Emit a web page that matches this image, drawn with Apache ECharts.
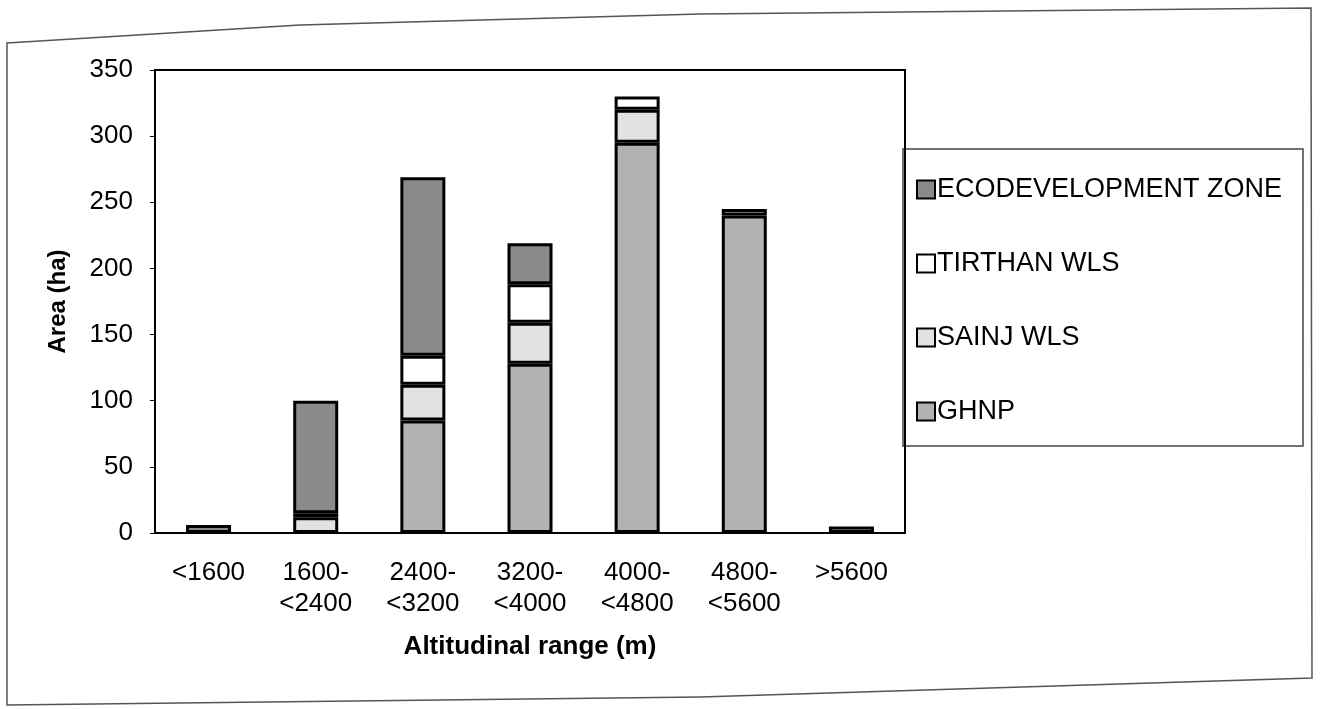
<!DOCTYPE html>
<html><head><meta charset="utf-8">
<script src="https://cdn.jsdelivr.net/npm/echarts@6/dist/echarts.min.js"></script>
<style>html,body{margin:0;padding:0;background:#fff}#c{width:1323px;height:709px}</style>
</head><body><div id="c"></div>
<script>
const categories = ['<1600', '1600-\n<2400', '2400-\n<3200', '3200-\n<4000', '4000-\n<4800', '4800-\n<5600', '>5600'];
const ghnp = [0, 0, 85, 128, 295, 240, 5];
const sainj = [0, 12, 27, 31, 25, 5, 0];
const tirthan = [0, 3, 22, 29, 10, 0, 0];
const ecodev = [6, 85, 135, 31, 0, 0, 0];
const yTicks = [0, 50, 100, 150, 200, 250, 300, 350];

const FONT = 'Liberation Sans, Arial, sans-serif';
const chart = echarts.init(document.getElementById('c'));
function mk(name, data, color) {
  return {
    name, type: 'bar', stack: 'a', barWidth: '42%',
    data: data.map(v => v === 0 ? '-' : v),
    itemStyle: { color, borderColor: '#000', borderWidth: 3 }
  };
}
chart.setOption({
  animation: false,
  textStyle: { fontFamily: FONT },
  graphic: [
    { type: 'polygon', shape: { points: [[7, 43], [300, 25], [700, 14], [1311, 8], [1312, 678], [700, 697], [7, 705]] }, style: { fill: 'none', stroke: '#555', lineWidth: 1.5 }, z: -1 },
    { type: 'rect', shape: { x: 903, y: 149, width: 400, height: 297 }, style: { fill: 'none', stroke: '#444', lineWidth: 1.5 }, z: -1 }
  ],
  grid: { left: 155, right: 418, top: 70, bottom: 176, show: true, borderColor: '#000', borderWidth: 2 },
  legend: {
    orient: 'vertical', left: 911, top: 171,
    data: ['ECODEVELOPMENT ZONE', 'TIRTHAN WLS', 'SAINJ WLS', 'GHNP'],
    icon: 'rect', itemWidth: 18, itemHeight: 18, itemGap: 47,
    itemStyle: { borderWidth: 2, borderColor: '#000' },
    textStyle: { fontSize: 27, color: '#000', fontFamily: FONT, padding: [0, 0, 0, -3] }
  },
  xAxis: {
    type: 'category', data: categories,
    name: 'Altitudinal range (m)', nameLocation: 'middle', nameGap: 101,
    nameTextStyle: { fontSize: 26, fontWeight: 'bold', color: '#000' },
    axisLine: { lineStyle: { color: '#000', width: 2 } },
    axisTick: { length: 6, lineStyle: { color: '#000' } },
    axisLabel: { fontSize: 26, color: '#000', margin: 24, lineHeight: 31, interval: 0 }
  },
  yAxis: {
    type: 'value', min: yTicks[0], max: yTicks[yTicks.length - 1], interval: 50,
    name: 'Area (ha)', nameLocation: 'middle', nameGap: 85,
    nameTextStyle: { fontSize: 24, fontWeight: 'bold', color: '#000' },
    axisLine: { show: true, lineStyle: { color: '#000', width: 2 } },
    axisTick: { show: true, length: 5, lineStyle: { color: '#000' } },
    splitLine: { show: false },
    axisLabel: { fontSize: 26, color: '#000', margin: 22 }
  },
  series: [
    mk('GHNP', ghnp, '#b2b2b2'),
    mk('SAINJ WLS', sainj, '#e2e2e2'),
    mk('TIRTHAN WLS', tirthan, '#ffffff'),
    mk('ECODEVELOPMENT ZONE', ecodev, '#8a8a8a')
  ]
});
</script></body></html>
